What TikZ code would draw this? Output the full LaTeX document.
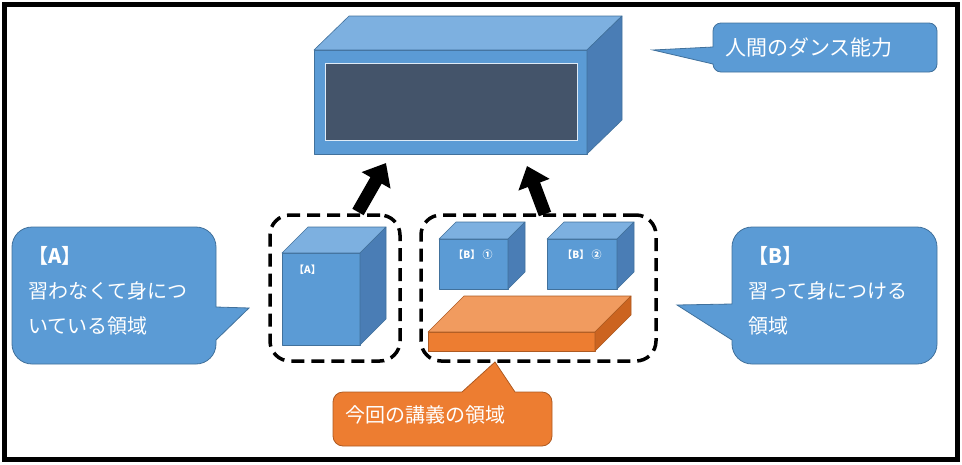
\documentclass[tikz,border=0pt]{standalone}
\usepackage{fontspec}
\setmainfont{Noto Sans CJK JP}
\usetikzlibrary{arrows.meta}

\definecolor{bluefront}{HTML}{5B9BD5}
\definecolor{bluetop}{HTML}{7DB0E0}
\definecolor{blueside}{HTML}{4A7DB5}
\definecolor{blueline}{HTML}{41719C}
\definecolor{orangefront}{HTML}{ED7D31}
\definecolor{orangetop}{HTML}{F19B5F}
\definecolor{orangeside}{HTML}{CC6420}
\definecolor{orangeline}{HTML}{AE5A21}
\definecolor{screen}{HTML}{44546A}
\definecolor{screenline}{HTML}{DEEBF7}

\begin{document}
\begin{tikzpicture}[x=1pt,y=-1pt,
  face/.style={draw=blueline,line width=0.6pt,line join=round},
  oface/.style={draw=orangeline,line width=0.6pt,line join=round},
  callout/.style={draw=blueline,fill=bluefront,line width=0.8pt},
  ocallout/.style={draw=orangeline,fill=orangefront,line width=0.8pt},
  dashbox/.style={draw,line width=3.5pt,dash pattern=on 13pt off 7pt,rounded corners=20pt,inner sep=0pt},
  bigarrow/.style={line width=13pt,-{Triangle[length=20pt,width=32pt]}},
  say/.style={text=white,align=left,inner sep=0pt,font=\fontsize{20pt}{35pt}\selectfont},
  tag/.style={text=white,inner sep=0pt,font=\fontsize{10pt}{12pt}\selectfont\bfseries}]

\useasboundingbox (0,0) rectangle (962,464);

% frame
\draw[line width=5pt] (4.5,4.5) rectangle (957,459.5);

% dance ability box
\draw[face,fill=bluefront] (314,50) rectangle (587,154);
\draw[face,fill=bluetop] (314,50) -- (349,16) -- (622,16) -- (587,50) -- cycle;
\draw[face,fill=blueside] (587,50) -- (622,16) -- (622,120) -- (587,154) -- cycle;
\draw[fill=screen,draw=screenline,line width=1pt] (325,63) rectangle (577,140);

% callouts
\draw[callout] (653,50) -- (713,47) [rounded corners=8pt] -- (713,23) -- (937,23) -- (937,72) -- (713,72) [sharp corners] -- (713,64) -- cycle;
\node[say,anchor=west,font=\fontsize{21pt}{35pt}\selectfont] (dance) at (725,47) {人間のダンス能力};

\draw[callout] (249,308) -- (216,340) [rounded corners=20pt] -- (216,364) -- (12,364) -- (12,227) -- (216,227) [sharp corners] -- (216,307) -- cycle;
\node[say,anchor=west] (textA) at (28,290.5) {{\bfseries 【A】}\\習わなくて身につ\\いている領域};

\draw[callout] (677,305) -- (732,304) [rounded corners=20pt] -- (732,227) -- (937,227) -- (937,364) -- (732,364) [sharp corners] -- (732,340) -- cycle;
\node[say,anchor=west] (textB) at (748,290.5) {{\bfseries 【B】}\\習って身につける\\領域};

\draw[ocallout] (495,362) -- (515,392) [rounded corners=10pt] -- (552,392) -- (552,446) -- (333,446) -- (333,392) [sharp corners] -- (462,392) -- cycle;
\node[say,anchor=west] (lecture) at (345,415) {今回の講義の領域};

% dashed groups
\node[dashbox,minimum width=130pt,minimum height=146pt] (groupA) at (335,288) {};
\node[dashbox,minimum width=235pt,minimum height=146pt] (groupB) at (538.5,288) {};

% cube A
\draw[face,fill=bluefront] (282,253) rectangle (360,345);
\draw[face,fill=bluetop] (282,253) -- (308,227) -- (386,227) -- (360,253) -- cycle;
\draw[face,fill=blueside] (360,253) -- (386,227) -- (386,319) -- (360,345) -- cycle;
\node[tag,anchor=west] (cubeA) at (294,270) {【A】};

% cubes B
\draw[face,fill=bluefront] (439,239) rectangle (508,289);
\draw[face,fill=bluetop] (439,239) -- (456,222) -- (525,222) -- (508,239) -- cycle;
\draw[face,fill=blueside] (508,239) -- (525,222) -- (525,272) -- (508,289) -- cycle;
\node[tag] (cubeB1) at (473,255) {【B】 ①};

\draw[face,fill=bluefront] (547,239) rectangle (617,289);
\draw[face,fill=bluetop] (547,239) -- (564,222) -- (634,222) -- (617,239) -- cycle;
\draw[face,fill=blueside] (617,239) -- (634,222) -- (634,272) -- (617,289) -- cycle;
\node[tag] (cubeB2) at (582,255) {【B】 ②};

% lecture slab
\draw[oface,fill=orangefront] (428,332) rectangle (595,351);
\draw[oface,fill=orangetop] (428,332) -- (464,296) -- (631,296) -- (595,332) -- cycle;
\draw[oface,fill=orangeside] (595,332) -- (631,296) -- (631,315) -- (595,351) -- cycle;

% arrows up
\coordinate (tailA) at (358,212);
\coordinate (tipA) at (386,163);
\coordinate (tailB) at (545,214);
\coordinate (tipB) at (527,166);
\draw[bigarrow] (tailA) -- (tipA);
\draw[bigarrow] (tailB) -- (tipB);

\end{tikzpicture}
\end{document}
